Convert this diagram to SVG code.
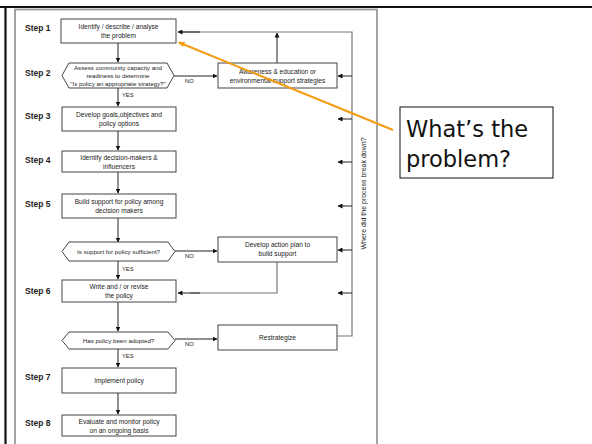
<svg xmlns="http://www.w3.org/2000/svg" width="592" height="444" viewBox="0 0 592 444">
  <defs>
    <marker id="ah" viewBox="0 0 10 10" refX="9" refY="5" markerWidth="5" markerHeight="5" orient="auto" markerUnits="userSpaceOnUse">
      <path d="M0,0 L10,5 L0,10 z" fill="#111"/>
    </marker>
    <marker id="oh" viewBox="0 0 10 10" refX="8" refY="5" markerWidth="7" markerHeight="7" orient="auto" markerUnits="userSpaceOnUse">
      <path d="M0,1 L10,5 L0,9 z" fill="#F59B12"/>
    </marker>
    <style>
      .box { fill: #fff; stroke: #444; stroke-width: 1; }
      .t { font-family: "Liberation Sans", Arial, sans-serif; font-size: 6.6px; fill: #222; text-anchor: middle; }
      .ts { font-family: "Liberation Sans", Arial, sans-serif; font-size: 6.2px; fill: #222; text-anchor: middle; }
      .vt { font-family: "Liberation Sans", Arial, sans-serif; font-size: 7px; fill: #222; text-anchor: middle; }
      .step { font-family: "Liberation Sans", Arial, sans-serif; font-size: 8.5px; font-weight: bold; fill: #222; }
      .lbl { font-family: "Liberation Sans", Arial, sans-serif; font-size: 5.8px; fill: #222; }
      .arr { stroke: #222; stroke-width: 1; fill: none; marker-end: url(#ah); }
      .fb { stroke: #777; stroke-width: 1.2; fill: none; }
      .call { font-family: "DejaVu Sans", Verdana, sans-serif; font-size: 22.5px; fill: #111; }
    </style>
  </defs>

  <rect x="0" y="0" width="592" height="444" fill="#fff"/>

  <!-- slide frame -->
  <line x1="0" y1="7" x2="592" y2="7" stroke="#111" stroke-width="2.2"/>
  <line x1="5.5" y1="7" x2="5.5" y2="444" stroke="#111" stroke-width="2.2"/>

  <!-- flowchart panel -->
  <rect x="15" y="9.5" width="362" height="440" fill="#fff" stroke="#999" stroke-width="1.8"/>

  <!-- step labels -->
  <g id="step-labels">
    <text class="step" x="25" y="31">Step 1</text>
    <text class="step" x="25" y="76">Step 2</text>
    <text class="step" x="25" y="119">Step 3</text>
    <text class="step" x="25" y="163">Step 4</text>
    <text class="step" x="25" y="207">Step 5</text>
    <text class="step" x="25" y="294">Step 6</text>
    <text class="step" x="25" y="380">Step 7</text>
    <text class="step" x="25" y="426">Step 8</text>
  </g>

  <!-- connectors -->
  <g id="connectors">
    <line class="arr" x1="118" y1="43" x2="118" y2="62"/>
    <line class="arr" x1="118" y1="88" x2="118" y2="106"/>
    <line class="arr" x1="118" y1="131" x2="118" y2="150"/>
    <line class="arr" x1="118" y1="172" x2="118" y2="193"/>
    <line class="arr" x1="118" y1="218" x2="118" y2="242"/>
    <line class="arr" x1="118" y1="261" x2="118" y2="279"/>
    <line class="arr" x1="118" y1="302" x2="118" y2="331"/>
    <line class="arr" x1="118" y1="349" x2="118" y2="367"/>
    <line class="arr" x1="118" y1="393" x2="118" y2="414"/>

    <text class="lbl" x="122" y="97">YES</text>
    <text class="lbl" x="122" y="271">YES</text>
    <text class="lbl" x="122" y="358">YES</text>

    <!-- NO branches -->
    <line class="arr" x1="174" y1="76" x2="217" y2="76"/>
    <text class="lbl" x="185" y="83">NO</text>
    <line class="arr" x1="175" y1="251" x2="217" y2="251"/>
    <text class="lbl" x="185" y="258">NO</text>
    <line class="arr" x1="175" y1="339" x2="217" y2="339"/>
    <text class="lbl" x="185" y="346">NO</text>

    <!-- return paths -->
    <polyline class="fb" points="337,336 352,336 352,32 180,32"/>
    <line class="arr" x1="200" y1="32" x2="178" y2="32"/>
    <line class="arr" x1="277" y1="63" x2="277" y2="33"/>
    <polyline class="fb" points="277,262 277,293 190,293"/>
    <line class="arr" x1="200" y1="293" x2="178" y2="293"/>

    <line class="arr" x1="352" y1="76" x2="338" y2="76"/>
    <line class="arr" x1="352" y1="119" x2="338" y2="119"/>
    <line class="arr" x1="352" y1="162" x2="338" y2="162"/>
    <line class="arr" x1="352" y1="206" x2="338" y2="206"/>
    <line class="arr" x1="352" y1="250" x2="338" y2="250"/>
    <line class="arr" x1="352" y1="293" x2="338" y2="293"/>

    <text class="vt" transform="translate(365.5,193.5) rotate(-90)">Where did the process break down?</text>
  </g>

  <!-- process nodes -->
  <g id="n1">
    <rect class="box" x="61" y="19" width="115" height="24"/>
    <text class="t" x="118.5" y="28.5">Identify / describe / analyse</text>
    <text class="t" x="118.5" y="37.5">the problem</text>
  </g>
  <g id="n2">
    <polygon class="box" points="62,75.5 69,63 167,63 174,75.5 167,88 69,88"/>
    <text class="ts" x="118" y="70">Assess community capacity and</text>
    <text class="ts" x="118" y="78">readiness to determine</text>
    <text class="ts" x="118" y="86">"Is policy an appropriate strategy?"</text>
  </g>
  <g id="n-awareness">
    <rect class="box" x="218" y="63" width="119" height="25"/>
    <text class="t" x="277.5" y="73.5">Awareness &amp; education or</text>
    <text class="t" x="277.5" y="82.5">environmental support strategies</text>
  </g>
  <g id="n3">
    <rect class="box" x="62" y="107" width="114" height="24"/>
    <text class="t" x="119" y="117">Develop goals,objectives and</text>
    <text class="t" x="119" y="126">policy options</text>
  </g>
  <g id="n4">
    <rect class="box" x="62" y="151" width="114" height="21"/>
    <text class="t" x="119" y="159.5">Identify decision-makers &amp;</text>
    <text class="t" x="119" y="168.5">influencers</text>
  </g>
  <g id="n5">
    <rect class="box" x="62" y="194" width="114" height="24"/>
    <text class="t" x="119" y="203.5">Build support for policy among</text>
    <text class="t" x="119" y="212.5">decision makers</text>
  </g>
  <g id="n-sufficient">
    <polygon class="box" points="62,251.5 69,242 168,242 175,251.5 168,261 69,261"/>
    <text class="ts" x="118.5" y="253.5">Is support for policy sufficient?</text>
  </g>
  <g id="n-action">
    <rect class="box" x="218" y="237" width="119" height="25"/>
    <text class="t" x="277.5" y="247">Develop action plan to</text>
    <text class="t" x="277.5" y="256">build support</text>
  </g>
  <g id="n6">
    <rect class="box" x="62" y="280" width="114" height="22"/>
    <text class="t" x="119" y="289">Write and / or revise</text>
    <text class="t" x="119" y="298">the policy</text>
  </g>
  <g id="n-adopted">
    <polygon class="box" points="62,340.5 69,332 168,332 175,340.5 168,349 69,349"/>
    <text class="ts" x="118.5" y="342.5">Has policy been adopted?</text>
  </g>
  <g id="n-restrategize">
    <rect class="box" x="218" y="325" width="119" height="25"/>
    <text class="t" x="277.5" y="339.5">Restrategize</text>
  </g>
  <g id="n7">
    <rect class="box" x="62" y="368" width="114" height="25"/>
    <text class="t" x="119" y="383">Implement policy</text>
  </g>
  <g id="n8">
    <rect class="box" x="62" y="415" width="114" height="21"/>
    <text class="t" x="119" y="423.5">Evaluate and monitor policy</text>
    <text class="t" x="119" y="432.5">on an ongoing basis</text>
  </g>

  <!-- callout -->
  <g id="callout">
    <rect x="400" y="107" width="153" height="71" fill="#fff" stroke="#111" stroke-width="1"/>
    <text class="call" x="406" y="137">What’s the</text>
    <text class="call" x="406" y="167">problem?</text>
  </g>
  <g id="callout-pointer">
    <line x1="393" y1="130" x2="179" y2="42.5" stroke="#F59B12" stroke-width="2" marker-end="url(#oh)"/>
  </g>
</svg>
